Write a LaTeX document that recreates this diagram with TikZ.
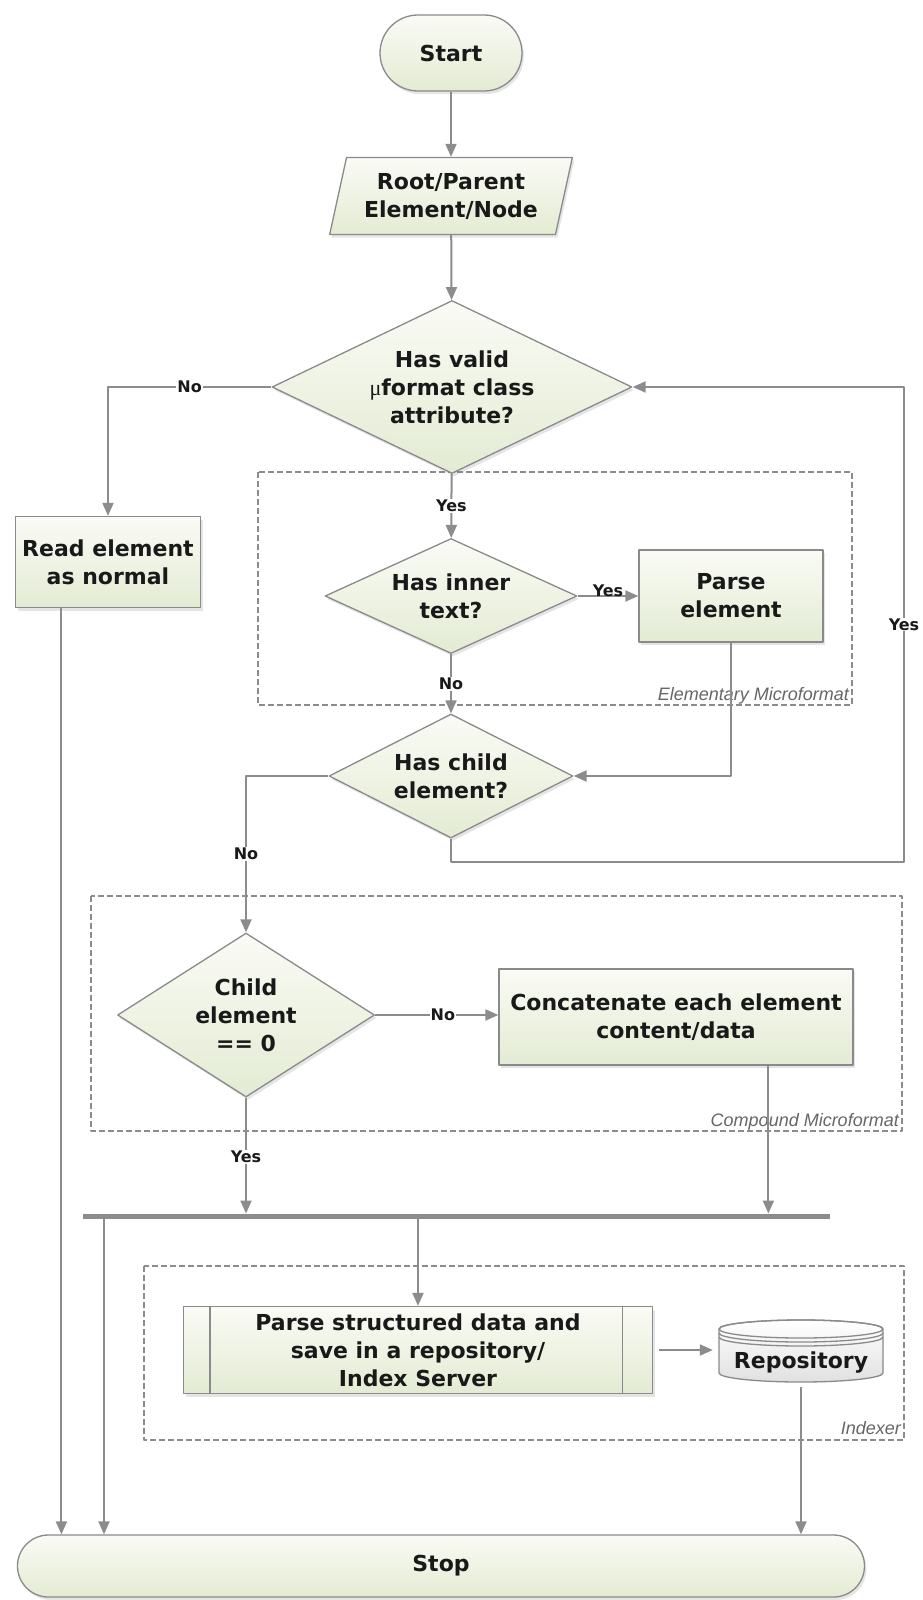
\documentclass[tikz,border=0pt]{standalone}
\usepackage{fontspec}
\setmainfont{DejaVu Sans}
\newfontfamily\notefont{Liberation Sans}
\newfontfamily\mufont{Liberation Serif}
\usetikzlibrary{shapes.geometric,arrows.meta,calc,shadows}
\definecolor{linegray}{HTML}{8C8C8C}
\definecolor{edgegray}{HTML}{8A8A8A}
\definecolor{boxtop}{HTML}{FAFBF5}
\definecolor{boxbot}{HTML}{E3EBD3}
\begin{document}
\begin{tikzpicture}[x=1pt,y=-1pt, line join=round, text=black!90,
	font=\bfseries\fontsize{22}{28}\selectfont,
	box/.style={draw=edgegray, line width=1.3pt, top color=boxtop, bottom color=boxbot, align=center, inner sep=2pt,
		drop shadow={shadow xshift=2pt, shadow yshift=-3pt, opacity=.2}},
	proc/.style={box, rectangle},
	term/.style={box, rectangle, rounded corners=#1},
	decide/.style={box, diamond, inner sep=0pt, aspect=#1},
	io/.style={box, trapezium, trapezium left angle=74, trapezium right angle=106, trapezium stretches=true},
	flow/.style={draw=linegray, line width=2pt, -{Triangle[length=13pt,width=11pt]}},
	lbl/.style={fill=white, inner sep=1pt, font=\bfseries\fontsize{16}{18}\selectfont},
	group/.style={draw=linegray, line width=1.2pt, dash pattern=on 6pt off 3pt},
	grouplbl/.style={anchor=base east, inner sep=1pt, text=black!60, font=\notefont\itshape\fontsize{18}{20}\selectfont}]
	\path[use as bounding box, fill=white] (0,0) rectangle (923,1600);
	% dashed groups
	\draw[group] (258,472) rectangle (852,705);
	\node[grouplbl] at (850,700) {Elementary Microformat};
	\draw[group] (91,896) rectangle (902,1131);
	\node[grouplbl] at (900,1126) {Compound Microformat};
	\draw[group] (144,1266) rectangle (904,1440);
	\node[grouplbl] at (902,1434) {Indexer};
	
	\node[term=38, minimum width=142, minimum height=76] (start) at (451,53) {Start};
	\node[io, minimum width=243, minimum height=77] (root) at (451,196) {Root/Parent\\Element/Node};
	\node[decide=2.08, minimum width=360, minimum height=173] (valid) at (452,387) {Has valid\\{\mufont\mdseries μ}format class\\attribute?};
	\node[proc, minimum width=185, minimum height=91] (read) at (108,562) {Read element\\as normal};
	\node[decide=2.19, minimum width=252, minimum height=115] (inner) at (451,596) {Has inner\\text?};
	\node[proc, minimum width=184, minimum height=92] (elem) at (731,596) {Parse\\element};
	\node[decide=1.97, minimum width=244, minimum height=124] (child) at (451,776) {Has child\\element?};
	\node[decide=1.57, minimum width=257, minimum height=164] (zero) at (246,1015) {Child\\element\\== 0};
	\node[proc, minimum width=354, minimum height=96] (concat) at (676,1017) {Concatenate each element\\content/data};
	\node[proc, minimum width=469, minimum height=87] (store) at (418,1350) {Parse structured data and\\save in a repository/\\Index Server};
	\draw[edgegray, line width=1.3pt] ($(store.north west)+(27,0)$) -- ($(store.south west)+(27,0)$)
		($(store.north east)+(-31,0)$) -- ($(store.south east)+(-31,0)$);
	% repository drum
	\draw[edgegray, line width=1.3pt, top color=white, bottom color=black!12] (719,1329) -- (719,1373)
		arc[start angle=180, end angle=360, x radius=82pt, y radius=9pt] -- (883,1329)
		arc[start angle=0, end angle=180, x radius=82pt, y radius=9pt] -- cycle;
	\draw[edgegray, line width=1.3pt] (801,1329) ellipse[x radius=82pt, y radius=9pt]
		(719,1333) arc[start angle=180, end angle=360, x radius=82pt, y radius=9pt]
		(719,1337) arc[start angle=180, end angle=360, x radius=82pt, y radius=9pt];
	\node[minimum width=164, minimum height=40, inner sep=0pt] (repo) at (801,1362) {Repository};
	\node[term=31, minimum width=847, minimum height=62] (stop) at (441,1566) {Stop};
	
	\draw[flow] (start) -- (root);
	\draw[flow] (root) -- (valid);
	\draw[flow] (valid.west) -| node[lbl, pos=.25] {No} (read.north);
	\draw[flow] (valid) -- node[lbl] {Yes} (inner);
	\draw[flow] (inner) -- node[lbl, fill=none, above, yshift=-3pt] {Yes} (elem);
	\draw[flow] (inner) -- node[lbl] {No} (child);
	\draw[flow] (elem.south) |- (child.east);
	\coordinate (back) at (904,862);
	\draw[flow] (child.south) |- (back) |- node[lbl, pos=.25] {Yes} (valid.east);
	\draw[flow] (child.west) -| node[lbl, pos=.75] {No} (zero.north);
	\draw[flow] (zero.east) -- node[lbl, pos=.55] {No} (zero.east -| concat.west);
	\coordinate (barL) at (83,1216);
	\coordinate (barR) at (830,1216);
	\draw[linegray, line width=5pt] (barL) -- (barR);
	\draw[flow, shorten >=2.5pt] (zero.south) -- node[lbl] {Yes} (zero.south |- barL);
	\draw[flow, shorten >=2.5pt] ($(concat.south west)!.76!(concat.south east)$) coordinate (c) -- (c |- barL);
	\draw[flow] (store.north |- barL) -- (store.north);
	\draw[flow] ($(barL)+(21,0)$) coordinate (b) -- (b |- stop.north);
	\draw[flow] ($(read.south west)!.25!(read.south east)$) coordinate (r) -- (r |- stop.north);
	\draw[flow, shorten <=6pt, shorten >=6pt] (store.east) -- (store.east -| repo.west);
	\draw[flow, shorten <=5pt] (repo.south) -- (repo.south |- stop.north);
\end{tikzpicture}
\end{document}
